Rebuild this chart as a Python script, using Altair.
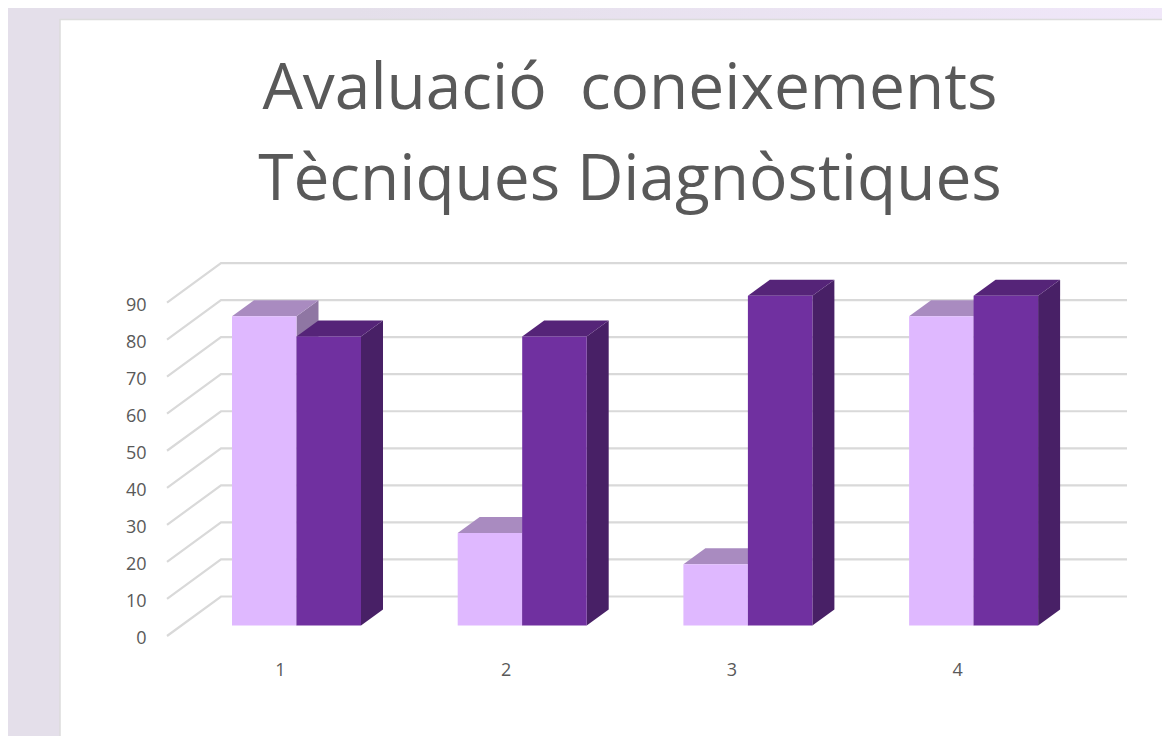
import altair as alt
import pandas as pd

# ---- values
categories = [1, 2, 3, 4]
series_light = [83.5, 25, 16.5, 83.5]
series_dark = [78, 78, 89, 89]
y_ticks = [0, 10, 20, 30, 40, 50, 60, 70, 80, 90]
title_lines = ["Avaluació\u00a0 coneixements", "Tècniques Diagnòstiques"]

# ---- layout (pixels in the image)
PX_LEFT, PX_RIGHT, PX_TOP, PX_BOTTOM = 167.0, 1127.0, 263.0, 636.0
PX_PER_CAT, PX_PER_UNIT = 225.7, 3.705
TOTAL_W, TOTAL_H = 1154, 728
PAD_L, PAD_T = PX_LEFT - 8, PX_TOP - 8
W, H = PX_RIGHT - PX_LEFT, PX_BOTTOM - PX_TOP
CAT1_PX = 280.0

x_dom = [1 + (PX_LEFT - CAT1_PX) / PX_PER_CAT, 1 + (PX_RIGHT - CAT1_PX) / PX_PER_CAT]
y_dom = [0, H / PX_PER_UNIT]
x_scale = alt.Scale(domain=x_dom, range=[0, W], nice=False, zero=False)
y_scale = alt.Scale(domain=y_dom, range=[H, 0], nice=False, zero=False)

def xu(px):
    return px / PX_PER_CAT

def yu(px):
    return px / PX_PER_UNIT

WALL_DX, WALL_DY = xu(54), yu(39.5)
BAR_DX, BAR_DY = xu(22), yu(16)
BAR_BASE = yu(PX_BOTTOM - 625.5)
BAR_W = xu(64.5)
BAR_SHIFT = xu(296.5 - CAT1_PX)

x_axis = alt.Axis(values=categories, format="d", domain=False, ticks=False, grid=False, zindex=1,
                  labelFont="Open Sans", labelFontSize=18, labelColor="#595959", labelPadding=25)
y_axis = alt.Axis(values=y_ticks, format="d", domain=False, ticks=False, grid=False, zindex=1,
                  labelFont="Open Sans", labelFontSize=18, labelColor="#595959", labelPadding=21,
                  labelOffset=2.5)
x_enc = alt.X("x:Q", scale=x_scale, axis=x_axis, title=None)
y_enc = alt.Y("y:Q", scale=y_scale, axis=y_axis, title=None)

# ---- chrome
BG_GRAD = alt.Gradient(
    gradient="linear", x1=0, x2=1, y1=0, y2=0,
    stops=[alt.GradientStop(color="#e4dfea", offset=0.0),
           alt.GradientStop(color="#e4dfea", offset=0.3),
           alt.GradientStop(color="#f0e7f9", offset=1.0)],
)
page = alt.Chart(pd.DataFrame({"a": [0]})).mark_rect(fill=BG_GRAD, clip=False).encode(
    x=alt.value(-PAD_L), x2=alt.value(TOTAL_W - PAD_L), y=alt.value(-PAD_T), y2=alt.value(TOTAL_H - PAD_T))
card = alt.Chart(pd.DataFrame({"a": [0]})).mark_rect(
    fill="white", stroke="#dcdcdc", strokeWidth=1.5, clip=False).encode(
    x=alt.value(60 - PX_LEFT), x2=alt.value(1180 - PX_LEFT),
    y=alt.value(19.5 - PX_TOP), y2=alt.value(760 - PX_TOP))

# ---- gridlines
grid_rows = []
for t in y_ticks:
    grid_rows += [
        {"t": t, "o": 0, "x": x_dom[0], "y": t},
        {"t": t, "o": 1, "x": x_dom[0] + WALL_DX, "y": t + WALL_DY},
        {"t": t, "o": 2, "x": x_dom[1], "y": t + WALL_DY},
    ]
grid = alt.Chart(pd.DataFrame(grid_rows)).mark_line(color="#d9d9d9", strokeWidth=2.2, clip=False).encode(
    x=x_enc, y=y_enc, detail="t:N", order="o:Q")

# ---- 3-D bars built from the values
def bar_layers(values, x_left_of, front, top, side):
    f, t, s = [], [], []
    for c, v in zip(categories, values):
        x0 = x_left_of(c)
        x1 = x0 + BAR_W
        h = BAR_BASE + v
        f.append({"c": c, "x": x0, "x2": x1, "y": BAR_BASE, "y2": h})
        t += [{"c": c, "x": x0, "y": h, "y2": h},
              {"c": c, "x": x0 + BAR_DX, "y": h, "y2": h + BAR_DY},
              {"c": c, "x": x1, "y": h, "y2": h + BAR_DY},
              {"c": c, "x": x1 + BAR_DX, "y": h + BAR_DY, "y2": h + BAR_DY}]
        s += [{"c": c, "x": x1, "y": BAR_BASE, "y2": h},
              {"c": c, "x": x1 + BAR_DX, "y": BAR_BASE + BAR_DY, "y2": h + BAR_DY}]
    side_l = alt.Chart(pd.DataFrame(s)).mark_area(color=side, orient="vertical").encode(
        x=x_enc, y=y_enc, y2="y2:Q", detail="c:N")
    top_l = alt.Chart(pd.DataFrame(t)).mark_area(color=top, orient="vertical").encode(
        x=x_enc, y=y_enc, y2="y2:Q", detail="c:N")
    front_l = alt.Chart(pd.DataFrame(f)).mark_rect(color=front).encode(
        x=x_enc, x2="x2:Q", y=y_enc, y2="y2:Q")
    return [side_l, top_l, front_l]

light = bar_layers(series_light, lambda c: c + BAR_SHIFT - BAR_W, "#dfb8ff", "#a98bc0", "#8f76a3")
dark = bar_layers(series_dark, lambda c: c + BAR_SHIFT, "#7030a0", "#552478", "#482066")

chart = alt.layer(page, card, grid, *light, *dark).properties(
    width=W, height=H,
    padding={"left": PAD_L, "top": PAD_T, "right": TOTAL_W - PAD_L - W, "bottom": TOTAL_H - PAD_T - H},
    autosize=alt.AutoSizeParams(type="none"),
    background="#e4dfea",
    title=alt.TitleParams(
        text=title_lines, font="Open Sans", fontSize=64, fontWeight="normal", color="#595959",
        lineHeight=91, anchor="middle", dx=-17, offset=-205, align="center", zindex=1),
).configure_view(stroke=None)

chart.save("out.html", embed_options={"renderer": "svg", "actions": False})
